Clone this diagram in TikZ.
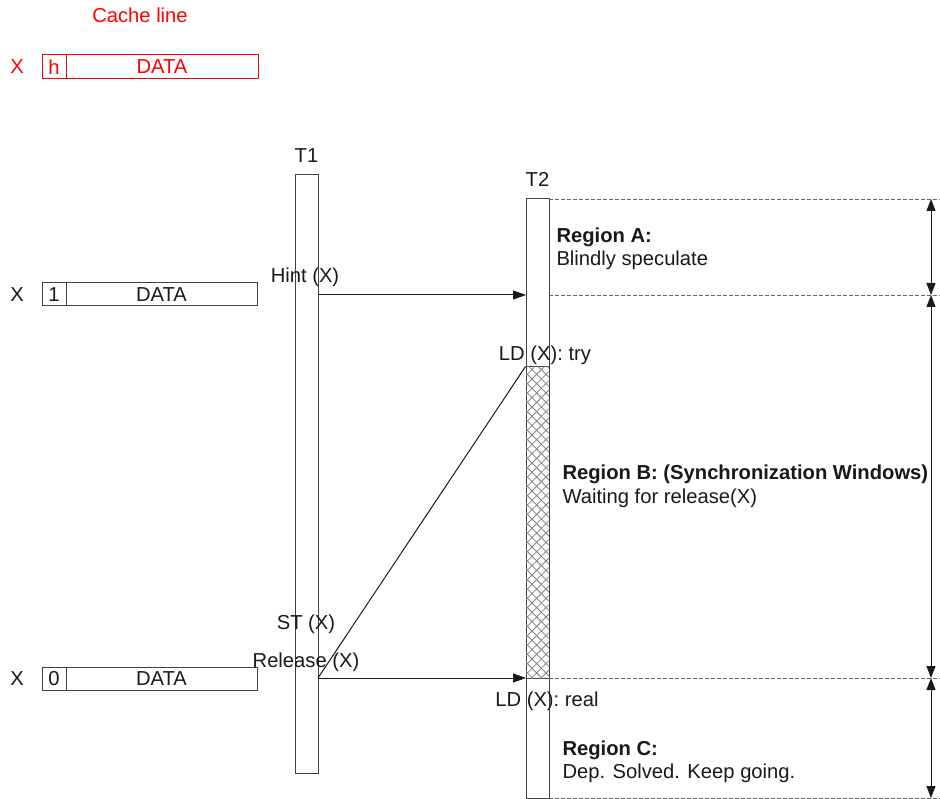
\documentclass[tikz,border=0pt]{standalone}
\usepackage{fontspec}
\setmainfont{Liberation Sans}
\usetikzlibrary{arrows.meta,patterns.meta}
\begin{document}
\begin{tikzpicture}[x=1pt,y=-1pt,line width=1pt,
  every node/.style={font=\fontsize{20.2}{23}\selectfont,inner sep=0pt,text=black!90},
  cell/.style={draw=black!75,minimum height=23pt},
  redcell/.style={draw=red,text=red,minimum height=24pt},
  redtxt/.style={text=red},
  bar/.style={draw=black!75,fill=white,minimum width=23pt},
  hatch/.style={draw=black!75,minimum width=23pt,
    postaction={pattern={Lines[angle=45,distance=6.6pt,line width=0.8pt]},pattern color=black!50},
    postaction={pattern={Lines[angle=-45,distance=6.6pt,line width=0.8pt]},pattern color=black!50}},
  lbl/.style={anchor=base},
  rlbl/.style={anchor=base west},
  boldlbl/.style={anchor=base west,font=\fontsize{20.2}{23}\selectfont\bfseries},
  msg/.style={-{Triangle[length=13pt,width=9pt]},black!90},
  dim/.style={{Triangle[length=12pt,width=9pt]}-{Triangle[length=12pt,width=9pt]},black!90},
  guide/.style={dash pattern=on 4pt off 2pt,black!60,line width=0.8pt}]
\useasboundingbox (0,0) rectangle (940,799);

% legend cache line (red)
\node[lbl,redtxt] (cl) at (140,23) {Cache line};
\node[lbl,redtxt] (xr) at (17,74) {X};
\node[redcell,minimum width=24pt] (hr) at (54,67) {h};
\node[redcell,minimum width=192pt] (dr) at (162,67) {DATA};

% cache line X = 1
\node[lbl] (x1) at (17,302) {X};
\node[cell,minimum width=24pt] (h1) at (54,294.5) {1};
\node[cell,minimum width=191pt] (d1) at (161.5,294.5) {DATA};

% cache line X = 0
\node[lbl] (x0) at (17,685) {X};
\node[cell,minimum width=24pt] (h0) at (54,678.5) {0};
\node[cell,minimum width=191pt] (d0) at (161.5,678.5) {DATA};

% threads
\node[bar,minimum height=598pt] (t1) at (306.5,474) {};
\node[lbl] (t1l) at (306.5,163) {T1};
\node[bar,minimum height=599pt] (t2) at (537.5,498.5) {};
\node[lbl] (t2l) at (537.5,187) {T2};

% synchronization window
\node[hatch,minimum height=311pt] (win) at (537.5,522.5) {};

% named points
\coordinate (hs) at (318,295);
\coordinate (he) at (526,295);
\coordinate (rs) at (318,678);
\coordinate (re) at (526,678);
\coordinate (g1) at (549,199);
\coordinate (g2) at (549,295);
\coordinate (g3) at (549,678);
\coordinate (g4) at (549,798);
\coordinate (e1) at (940,199);
\coordinate (e2) at (940,295);
\coordinate (e3) at (940,678);
\coordinate (e4) at (940,798);
\coordinate (a1) at (931,199);
\coordinate (a2) at (931,295);
\coordinate (a3) at (931,678);
\coordinate (a4) at (931,798);

% guides
\draw[guide] (g1) -- (e1);
\draw[guide] (g2) -- (e2);
\draw[guide] (g3) -- (e3);
\draw[guide] (g4) -- (e4);

% dimension arrows
\draw[dim] (a1) -- (a2);
\draw[dim] (a2) -- (a3);
\draw[dim] (a3) -- (a4);

% messages
\draw[msg] (hs) -- (he);
\draw[msg] (rs) -- (re);
\draw[black!90] (rs) -- (win.north west);

% labels
\node[lbl] (hint) at (305,283) {Hint (X)};
\node[lbl] (st) at (306,629) {ST (X)};
\node[lbl] (rel) at (306,667) {Release (X)};
\node[lbl] (ldt) at (545,361) {LD (X): try};
\node[lbl] (ldr) at (547,706) {LD (X): real};

\node[boldlbl] (ra) at (556,243) {Region A:};
\node[rlbl] (rat) at (556,266) {Blindly speculate};
\node[boldlbl] (rb) at (562,479) {Region B: (Synchronization Windows)};
\node[rlbl] (rbt) at (562,503) {Waiting for release(X)};
\node[boldlbl] (rc) at (562,755) {Region C:};
\node[rlbl] (rct) at (562,778) {Dep. Solved. Keep going.};
\end{tikzpicture}
\end{document}
